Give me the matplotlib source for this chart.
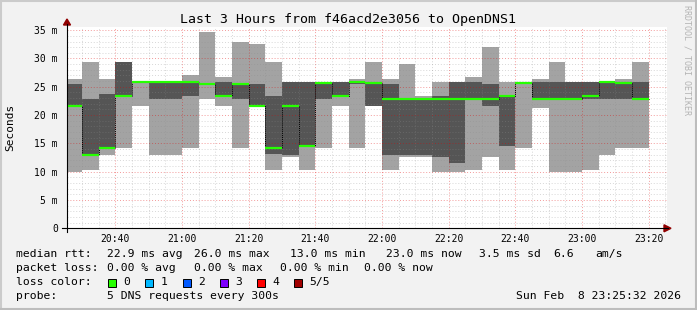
import numpy as np
import matplotlib
matplotlib.use("Agg")
import matplotlib.pyplot as plt
from matplotlib.patches import Rectangle, Polygon
from matplotlib.lines import Line2D

plt.rcParams['font.family'] = ['DejaVu Sans Mono']

# time axis in minutes after 20:00, one smoke bar per 5-minute step
t_start, t_end = 25.5, 205.5
bar_edges = [25.5] + list(range(30, 201, 5))

# the 5 sorted ping times per step (ms): min, 2nd, median, 4th, max
ping_min = [9.9, 10.3, 13.0, 14.2, 21.6, 13.0, 13.0, 14.2, 22.9, 21.6, 14.2, 21.5,
            10.3, 12.65, 10.3, 14.2, 21.6, 14.2, 21.55, 10.3, 12.65, 12.65, 9.95, 9.95,
            10.3, 12.65, 10.3, 14.2, 21.3, 9.95, 9.95, 10.3, 13.0, 14.2, 14.2]
ping_2 = [21.6, 13.0, 14.2, 23.4, 25.8, 22.8, 22.8, 23.4, 25.5, 23.3, 22.9, 21.55,
          13.1, 13.0, 14.4, 22.8, 23.3, 25.5, 21.6, 13.0, 13.0, 12.95, 12.65, 11.6,
          22.8, 21.6, 14.5, 25.5, 22.8, 22.8, 22.8, 22.85, 22.85, 22.85, 22.8]
median = [21.6, 13.0, 14.2, 23.4, 25.85, 25.85, 25.85, 25.85, 25.55, 23.4, 25.55, 21.6,
          14.2, 21.6, 14.5, 25.6, 23.4, 25.85, 25.6, 22.85, 22.85, 22.85, 22.85, 22.85,
          22.85, 22.85, 23.4, 25.6, 22.85, 22.85, 22.85, 23.4, 25.85, 25.6, 22.85]
ping_4 = [25.5, 22.8, 23.7, 29.4, 25.9, 25.9, 25.9, 25.85, 25.6, 25.85, 25.6, 25.5,
          23.4, 25.85, 25.85, 25.6, 25.85, 25.9, 25.6, 25.5, 22.9, 22.9, 23.4, 25.85,
          25.85, 25.5, 23.4, 25.6, 25.85, 25.85, 25.85, 25.85, 25.85, 25.85, 25.85]
ping_max = [26.3, 29.4, 26.3, 29.4, 25.9, 25.9, 25.9, 27.1, 34.7, 26.7, 32.9, 32.6,
            29.4, 25.85, 25.9, 25.9, 25.85, 26.3, 29.4, 26.3, 29.0, 23.4, 25.85, 25.85,
            26.7, 32.0, 25.85, 25.7, 26.3, 29.4, 25.85, 25.85, 25.9, 26.3, 29.4]

x_ticks = [40, 60, 80, 100, 120, 140, 160, 180, 200]
x_labels = ['20:40', '21:00', '21:20', '21:40', '22:00', '22:20', '22:40', '23:00', '23:20']
y_ticks = [0, 5, 10, 15, 20, 25, 30, 35]
y_labels = ['0', '5 m', '10 m', '15 m', '20 m', '25 m', '30 m', '35 m']

loss_labels = ['0', '1', '2', '3', '4', '5/5']
loss_colors = ['#26ff00', '#00b8ff', '#0059ff', '#7e00ff', '#ff0000', '#a10000']

W, H = 697, 310
def fx(px):
    return px / W
def fy(py):
    return 1 - py / H

fig = plt.figure(figsize=(W / 100, H / 100), dpi=100, facecolor='#f2f2f2')
ax = fig.add_axes([fx(67), fy(228.3), fx(667) - fx(67), fy(26.5) - fy(228.3)])
ax.set_facecolor('white')
ax.set_xlim(t_start, t_end)
ax.set_ylim(0, 35.65)

left = np.array(bar_edges[:-1], dtype=float)
width = np.diff(bar_edges)
lo, p2, med, p4, hi = map(np.array, (ping_min, ping_2, median, ping_4, ping_max))

ax.bar(left, hi - lo, width, bottom=lo, align='edge', color='#a3a3a3', lw=0, zorder=1)
ax.bar(left, p4 - p2, width, bottom=p2, align='edge', color='#555555', lw=0, zorder=1.1)

# grid drawn over the smoke, like rrdtool
dots = (0, (1, 2))
for m in range(30, 206, 5):
    if m % 20:
        ax.axvline(m, color='#8c8c8c', alpha=0.35, lw=0.7, ls=dots, zorder=2)
for m in x_ticks:
    ax.axvline(m, color='#e00000', alpha=0.4, lw=0.7, ls=dots, zorder=2)
for v in range(1, 36):
    if v % 5:
        ax.axhline(v, color='#8c8c8c', alpha=0.35, lw=0.7, ls=dots, zorder=2)
for v in y_ticks[1:]:
    ax.axhline(v, color='#e00000', alpha=0.4, lw=0.7, ls=dots, zorder=2)

# median: dotted black steps, green level per step
ax.stairs(med, bar_edges, baseline=None, color='black', lw=0.7, ls=(0, (1, 1)), zorder=3)
ax.hlines(med, left, left + width, color='#26ff00', lw=1.6, zorder=4)

ax.set_xticks(x_ticks)
ax.set_xticklabels(x_labels)
ax.set_yticks(y_ticks)
ax.set_yticklabels(y_labels)
ax.tick_params(axis='x', length=0, pad=4, labelsize=7)
ax.tick_params(axis='y', length=0, pad=6.5, labelsize=7)
for s in ax.spines.values():
    s.set_visible(False)

# axes with arrows
fig.add_artist(Line2D([fx(62), fx(668)], [fy(228.3), fy(228.3)], color='black', lw=0.8))
fig.add_artist(Line2D([fx(67), fx(67)], [fy(232), fy(24)], color='black', lw=0.8))
fig.add_artist(Polygon([[fx(664), fy(224.8)], [fx(671), fy(228.3)], [fx(664), fy(231.8)]],
                       closed=True, color='#900000', transform=fig.transFigure))
fig.add_artist(Polygon([[fx(63.5), fy(25)], [fx(67), fy(19)], [fx(70.5), fy(25)]],
                       closed=True, color='#900000', transform=fig.transFigure))

fig.text(fx(348), fy(19), 'Last 3 Hours from f46acd2e3056 to OpenDNS1',
         ha='center', va='center', fontsize=9.5)
fig.text(fx(10), fy(127.5), 'Seconds', rotation=90, ha='center', va='center', fontsize=8)
fig.text(fx(687), fy(60), 'RRDTOOL / TOBI OETIKER', rotation=270, ha='center',
         va='center', fontsize=6, color='#b4b4b4')

# legend block
fs = 8.2
rows = [
    (254.3, [(16.4, 'median rtt:'), (106.7, '22.9 ms avg'), (194.2, '26.0 ms max'),
             (290, '13.0 ms min'), (386, '23.0 ms now'), (479, '3.5 ms sd'),
             (553, '6.6'), (595.6, 'am/s')]),
    (268.3, [(16.4, 'packet loss:'), (106.7, '0.00 % avg'), (194.2, '0.00 % max'),
             (280, '0.00 % min'), (364.4, '0.00 % now')]),
    (282.3, [(16.4, 'loss color:')]),
    (296, [(16.4, 'probe:'), (106.7, '5 DNS requests every 300s')]),
]
for yy, items in rows:
    for xx, s in items:
        fig.text(fx(xx), fy(yy), s, ha='left', va='center', fontsize=fs)
fig.text(fx(680.5), fy(296), 'Sun Feb  8 23:25:32 2026', ha='right', va='center', fontsize=fs)

box_x = [108, 145.3, 182.7, 220, 256.9, 294.2]
for bx, lab, col in zip(box_x, loss_labels, loss_colors):
    fig.add_artist(Rectangle((fx(bx), fy(286.5)), 8 / W, 8 / H, transform=fig.transFigure,
                             facecolor=col, edgecolor='black', lw=0.7))
    fig.text(fx(bx + 15), fy(282.3), lab, ha='left', va='center', fontsize=fs)

# frame around the canvas
fig.add_artist(Line2D([0, 1], [fy(1), fy(1)], color='#cbcbcb', lw=1.5))
fig.add_artist(Line2D([fx(1), fx(1)], [0, 1], color='#cbcbcb', lw=1.5))
fig.add_artist(Line2D([0, 1], [fy(309), fy(309)], color='#bdbdbd', lw=1.5))
fig.add_artist(Line2D([fx(696), fx(696)], [0, 1], color='#bdbdbd', lw=1.5))

fig.savefig('out.png', dpi=100, facecolor=fig.get_facecolor())
